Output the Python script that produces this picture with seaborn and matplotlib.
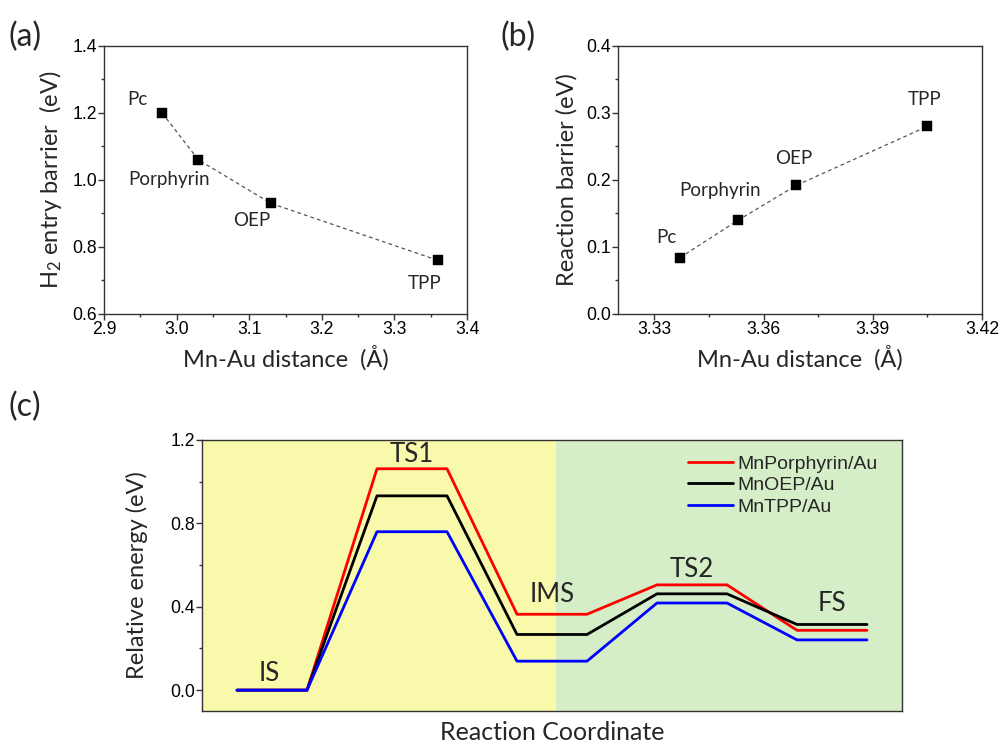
import numpy as np
import pandas as pd
import matplotlib
matplotlib.use("Agg")
import matplotlib.pyplot as plt
from matplotlib.ticker import MultipleLocator, FixedLocator
import seaborn as sns

# ---------------- data ----------------
mol_labels = ["Pc", "Porphyrin", "OEP", "TPP"]
a_dist = [2.98, 3.03, 3.13, 3.36]
a_barrier = [1.20, 1.06, 0.93, 0.76]
b_dist = [3.337, 3.353, 3.369, 3.405]
b_barrier = [0.084, 0.140, 0.192, 0.280]

states = ["IS", "TS1", "IMS", "TS2", "FS"]
series_names = ["MnPorphyrin/Au", "MnOEP/Au", "MnTPP/Au"]
e_porphyrin = [0.0, 1.062, 0.364, 0.505, 0.287]
e_oep = [0.0, 0.932, 0.267, 0.462, 0.315]
e_tpp = [0.0, 0.760, 0.139, 0.418, 0.241]

# ---------------- style ----------------
sns.set_style("ticks")
TICKFONT = ["Liberation Sans", "DejaVu Sans"]
LABFONT = ["Lato", "DejaVu Sans"]
plt.rcParams["font.family"] = LABFONT
plt.rcParams["mathtext.fontset"] = "custom"
plt.rcParams["mathtext.rm"] = "Lato"
plt.rcParams["mathtext.it"] = "Lato:italic"
plt.rcParams["axes.edgecolor"] = "#333333"
plt.rcParams["axes.linewidth"] = 1.0
plt.rcParams["xtick.color"] = "#333333"
plt.rcParams["ytick.color"] = "#333333"
plt.rcParams["xtick.labelcolor"] = "black"
plt.rcParams["ytick.labelcolor"] = "black"

fig = plt.figure(figsize=(10.02, 7.47), dpi=100)
ax_a = fig.add_axes([0.1038, 0.5797, 0.3623, 0.3588])
ax_b = fig.add_axes([0.6168, 0.5797, 0.3633, 0.3588])
ax_c = fig.add_axes([0.2016, 0.0482, 0.6986, 0.3628])


def style_ticks(ax):
    ax.tick_params(which="major", direction="out", length=4, width=1,
                   labelsize=12.7, pad=1)
    ax.tick_params(which="minor", direction="out", length=2.5, width=1)
    for lab in ax.get_xticklabels() + ax.get_yticklabels():
        lab.set_fontfamily(TICKFONT)
    for sp in ax.spines.values():
        sp.set_visible(True)


def scatter_panel(ax, x, y, offsets):
    df = pd.DataFrame({"x": x, "y": y, "lab": mol_labels})
    sns.lineplot(data=df, x="x", y="y", ax=ax, color="#555555", lw=0.9,
                 linestyle=(0, (3, 2.5)), sort=False)
    sns.scatterplot(data=df, x="x", y="y", ax=ax, marker="s", s=42,
                    color="black", edgecolor="black", linewidth=0.3, zorder=3)
    for (xi, yi, lab), off in zip(zip(x, y, mol_labels), offsets):
        ax.annotate(lab, (xi, yi), xytext=off, textcoords="offset points",
                    ha="center", va="center", fontsize=13.5,
                    fontfamily=LABFONT)


# ---------------- panel (a) ----------------
scatter_panel(ax_a, a_dist, a_barrier,
              [(-17.5, 10), (-21, -14), (-13.7, -12), (-9.8, -16.5)])
ax_a.set_xlim(2.9, 3.4)
ax_a.set_ylim(0.6, 1.4)
ax_a.xaxis.set_major_locator(MultipleLocator(0.1))
ax_a.xaxis.set_minor_locator(MultipleLocator(0.05))
ax_a.yaxis.set_major_locator(MultipleLocator(0.2))
ax_a.yaxis.set_minor_locator(MultipleLocator(0.1))
ax_a.set_xlabel("Mn-Au distance  (Å)", fontsize=17, labelpad=5)
ax_a.set_ylabel("H$_{\\mathregular{2}}$ entry barrier  (eV)", fontsize=17,
                labelpad=6)
style_ticks(ax_a)

# ---------------- panel (b) ----------------
scatter_panel(ax_b, b_dist, b_barrier,
              [(-9.5, 14.5), (-12.7, 21), (-2, 19.5), (-2, 19.5)])
ax_b.set_xlim(3.32, 3.42)
ax_b.set_ylim(0.0, 0.4)
ax_b.xaxis.set_major_locator(FixedLocator([3.33, 3.36, 3.39, 3.42]))
ax_b.xaxis.set_minor_locator(FixedLocator([3.345, 3.375, 3.405]))
ax_b.yaxis.set_major_locator(MultipleLocator(0.1))
ax_b.yaxis.set_minor_locator(MultipleLocator(0.05))
ax_b.set_xticklabels(["3.33", "3.36", "3.39", "3.42"])
ax_b.set_xlabel("Mn-Au distance  (Å)", fontsize=17, labelpad=5)
ax_b.set_ylabel("Reaction barrier (eV)", fontsize=17, labelpad=6)
style_ticks(ax_b)

# ---------------- panel (c) ----------------
rows = []
for name, energies in zip(series_names, [e_porphyrin, e_oep, e_tpp]):
    for i, (st, e) in enumerate(zip(states, energies)):
        rows.append({"series": name, "pos": 2 * i, "E": e})
        rows.append({"series": name, "pos": 2 * i + 1, "E": e})
df_c = pd.DataFrame(rows)

ax_c.set_xlim(-0.5, 9.5)
ax_c.set_ylim(-0.1, 1.2)
ax_c.axvspan(-0.5, 4.55, color="#f8f9aa", lw=0, zorder=0)
ax_c.axvspan(4.55, 9.5, color="#d5eec8", lw=0, zorder=0)
sns.lineplot(data=df_c, x="pos", y="E", hue="series", hue_order=series_names,
             palette=["#ff0000", "#000000", "#0000ff"], sort=False,
             lw=2.0, ax=ax_c, zorder=3)

label_offsets = [12, 10, 14, 11, 15]
all_e = np.array([e_porphyrin, e_oep, e_tpp])
for i, st in enumerate(states):
    ax_c.annotate(st, (2 * i + 0.5, all_e[:, i].max()),
                  xytext=(-2 if i == 0 else 0, label_offsets[i]),
                  textcoords="offset points", ha="center", va="center",
                  fontsize=18.5, fontfamily=LABFONT)

ax_c.set_xticks([])
ax_c.yaxis.set_major_locator(MultipleLocator(0.4))
ax_c.yaxis.set_minor_locator(MultipleLocator(0.2))
ax_c.set_xlabel("Reaction Coordinate", fontsize=18, labelpad=7)
ax_c.set_ylabel("Relative energy (eV)", fontsize=17, labelpad=16)
style_ticks(ax_c)
leg = ax_c.legend(loc="upper right", frameon=False,
                  prop={"family": TICKFONT, "size": 14},
                  handlelength=2.3, handletextpad=0.25, labelspacing=0.2,
                  borderaxespad=0.3, bbox_to_anchor=(0.985, 0.995))
for h in leg.get_lines():
    h.set_linewidth(2.0)

# panel letters
fig.text(0.008, 0.938, "(a)", fontsize=23, fontfamily=LABFONT)
fig.text(0.5, 0.938, "(b)", fontsize=23, fontfamily=LABFONT)
fig.text(0.008, 0.443, "(c)", fontsize=23, fontfamily=LABFONT)

fig.savefig("out.png", dpi=100)
